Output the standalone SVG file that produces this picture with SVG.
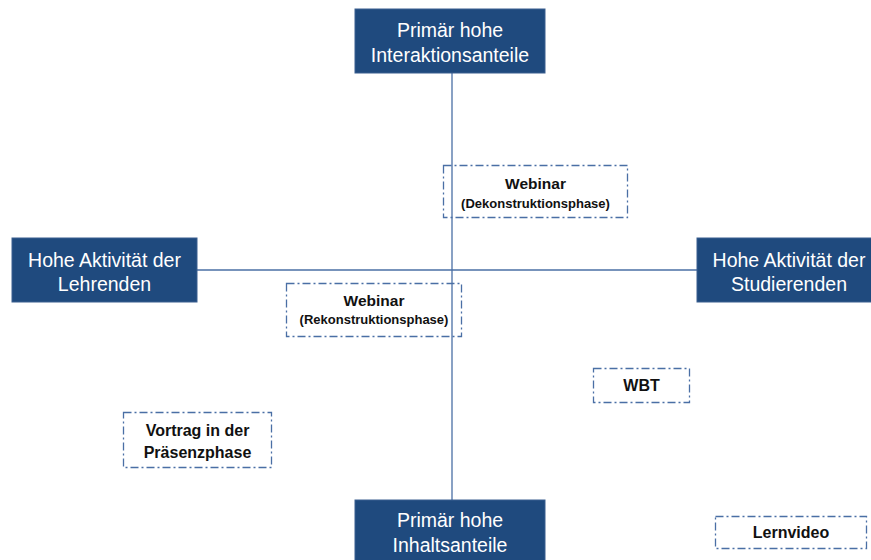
<svg xmlns="http://www.w3.org/2000/svg" width="871" height="560" viewBox="0 0 871 560">
  <style>
    .axis-box { fill: #1F4A7E; stroke: #3A5F8F; stroke-width: 1; }
    .axis-text { fill: #FFFFFF; font-family: "Liberation Sans", Arial, sans-serif; font-size: 19.5px; text-anchor: middle; dominant-baseline: central; }
    .item-box { fill: none; stroke: #4A6FA5; stroke-width: 1.3; stroke-dasharray: 8 3 2 3; }
    .item-text { fill: #111111; font-family: "Liberation Sans", Arial, sans-serif; font-weight: bold; text-anchor: middle; dominant-baseline: central; }
    .axis-line { stroke: #4A6FA5; stroke-width: 1.3; fill: none; }
  </style>
  <rect width="871" height="560" fill="#FFFFFF"/>

  <g id="connectors">
    <line class="axis-line" x1="452" y1="73" x2="452" y2="500"/>
    <line class="axis-line" x1="197" y1="270" x2="697" y2="270"/>
  </g>

  <g id="node-dekonstruktion">
    <rect class="item-box" x="443.5" y="165.5" width="184" height="52"/>
    <text class="item-text" x="535.5" y="183" font-size="15.5">Webinar</text>
    <text class="item-text" x="535.5" y="203" font-size="13">(Dekonstruktionsphase)</text>
  </g>

  <g id="node-rekonstruktion">
    <rect class="item-box" x="286.5" y="283.5" width="175" height="53"/>
    <text class="item-text" x="374" y="300" font-size="15.5">Webinar</text>
    <text class="item-text" x="374" y="319" font-size="13">(Rekonstruktionsphase)</text>
  </g>

  <g id="node-vortrag">
    <rect class="item-box" x="123.5" y="412.5" width="148" height="55"/>
    <text class="item-text" x="197.5" y="430" font-size="16">Vortrag in der</text>
    <text class="item-text" x="197.5" y="452" font-size="16">Präsenzphase</text>
  </g>

  <g id="node-wbt">
    <rect class="item-box" x="593.5" y="368.5" width="96" height="34"/>
    <text class="item-text" x="641.5" y="385.5" font-size="16">WBT</text>
  </g>

  <g id="node-lernvideo">
    <rect class="item-box" x="715.5" y="516.5" width="151" height="32"/>
    <text class="item-text" x="791" y="532.5" font-size="16">Lernvideo</text>
  </g>

  <g id="node-interaktion">
    <rect class="axis-box" x="355" y="9" width="190" height="64"/>
    <text class="axis-text" x="450" y="30">Primär hohe</text>
    <text class="axis-text" x="450" y="55">Interaktionsanteile</text>
  </g>

  <g id="node-inhalt">
    <rect class="axis-box" x="355" y="500" width="190" height="70"/>
    <text class="axis-text" x="450" y="520">Primär hohe</text>
    <text class="axis-text" x="450" y="545">Inhaltsanteile</text>
  </g>

  <g id="node-lehrende">
    <rect class="axis-box" x="12" y="238" width="185" height="64"/>
    <text class="axis-text" x="104.5" y="260">Hohe Aktivität der</text>
    <text class="axis-text" x="104.5" y="284">Lehrenden</text>
  </g>

  <g id="node-studierende">
    <rect class="axis-box" x="697" y="238" width="185" height="64"/>
    <text class="axis-text" x="789" y="260">Hohe Aktivität der</text>
    <text class="axis-text" x="789" y="284">Studierenden</text>
  </g>
</svg>
